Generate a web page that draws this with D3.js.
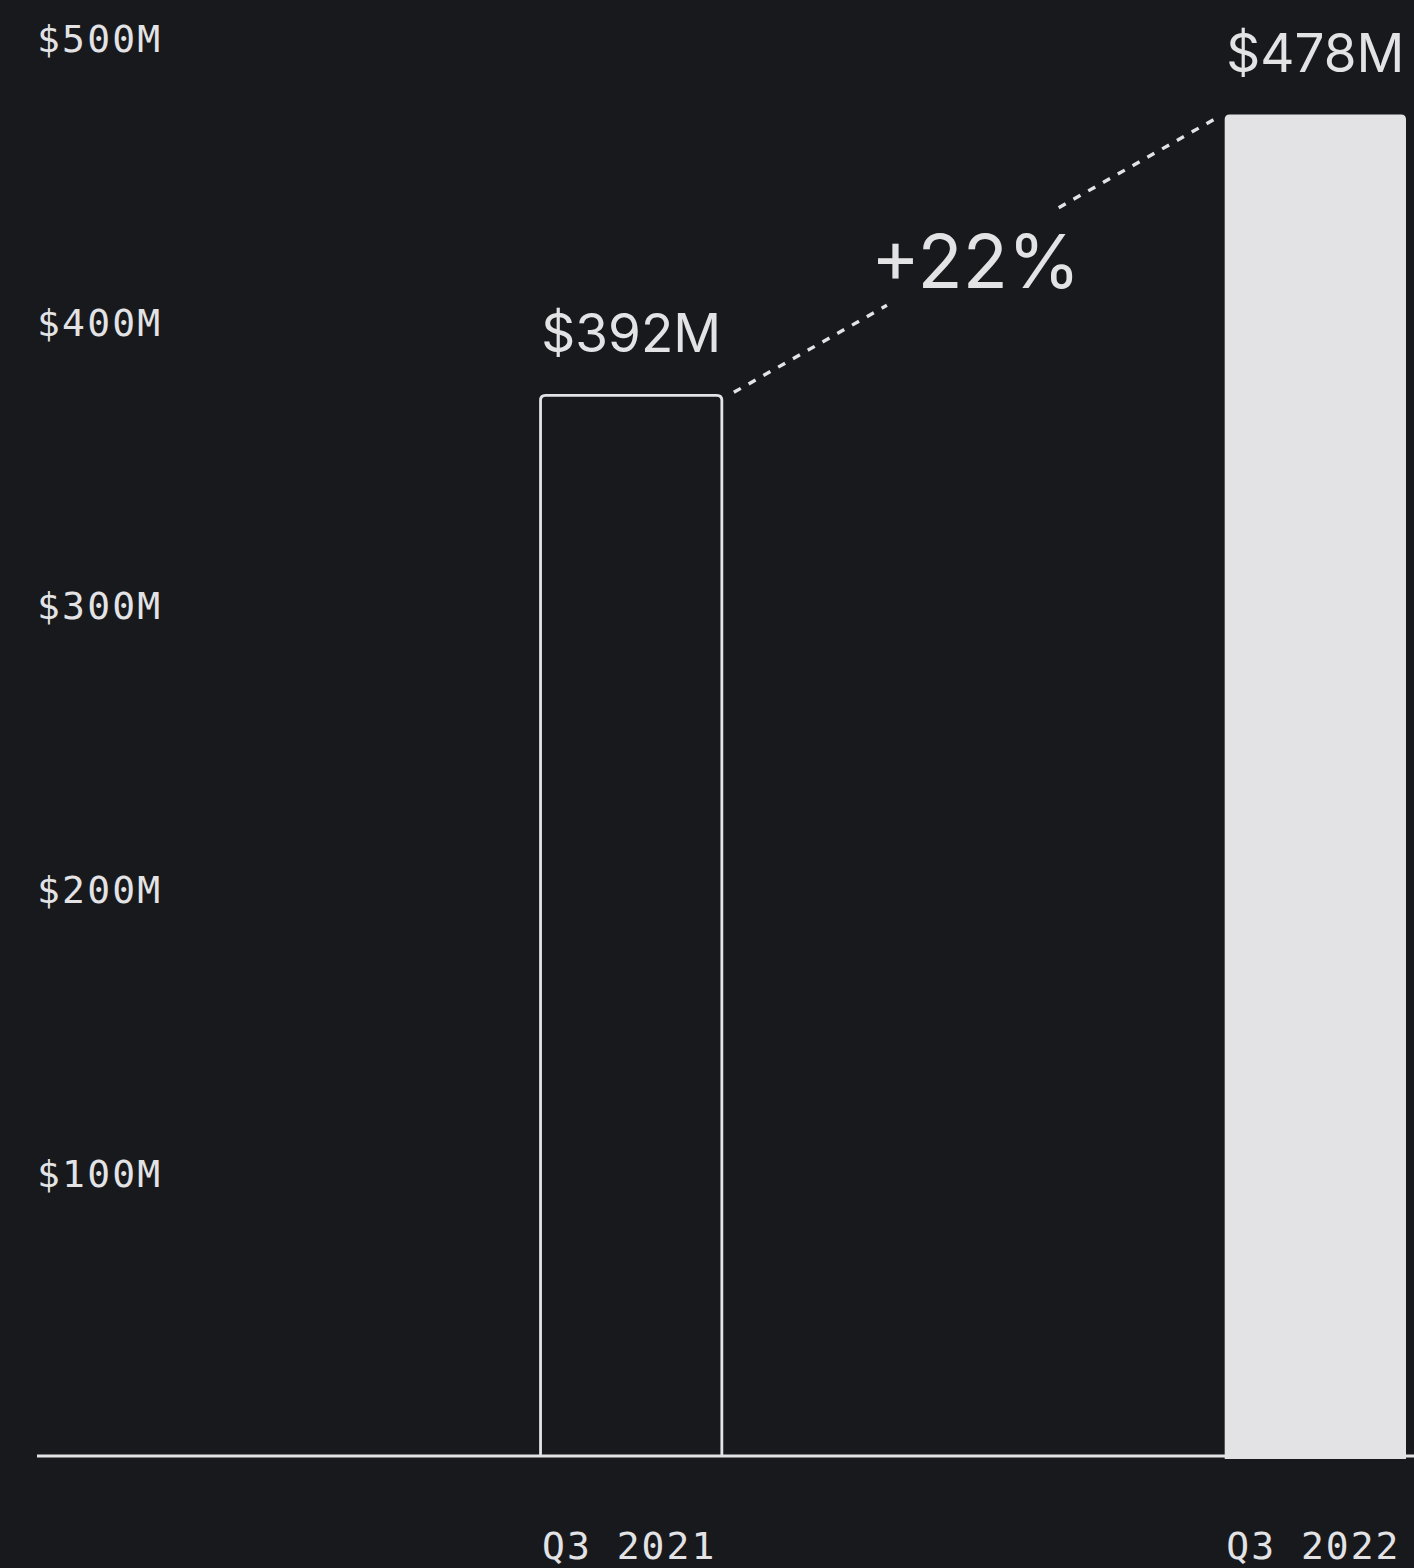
<!DOCTYPE html>
<html><head><meta charset="utf-8">
<script src="https://cdn.jsdelivr.net/npm/d3@7"></script>
<style>
html,body{margin:0;padding:0;background:#18191d;}
svg{display:block;}
</style></head>
<body>
<svg id="chart" width="1414" height="1568"></svg>
<script>
const categories = ["Q3 2021", "Q3 2022"];
const barValues = [374, 473];           // bar heights as read against the axis
const valueLabels = ["$392M", "$478M"];
const changeLabel = "+22%";
const tickValues = [100, 200, 300, 400, 500];
const tickLabels = ["$100M", "$200M", "$300M", "$400M", "$500M"];

const W = 1414, H = 1568;
const fg = "#e3e3e5", bg = "#18191d";
const svg = d3.select("#chart");
svg.append("rect").attr("width", W).attr("height", H).attr("fill", bg);

const y = d3.scaleLinear().domain([0, 500]).range([1456, 38]);
const x = d3.scaleBand().domain(categories).range([37, 1406])
  .paddingInner(0.735).paddingOuter(0.368).align(1);

const monoFont = "'DejaVu Sans Mono', monospace";

// y tick labels
const yAxis = d3.axisLeft(y).tickValues(tickValues)
  .tickFormat((d, i) => tickLabels[i]).tickSize(0).tickPadding(0);
const gy = svg.append("g").attr("transform", "translate(37,0)").call(yAxis);
gy.select(".domain").remove();
gy.selectAll("text").attr("text-anchor", "start").attr("x", 0)
  .attr("fill", fg).attr("font-family", monoFont)
  .attr("font-size", 38).attr("letter-spacing", 2.2).attr("dy", "0.36em");

// baseline axis
svg.append("line").attr("x1", 37).attr("x2", W).attr("y1", y(0)).attr("y2", y(0))
  .attr("stroke", fg).attr("stroke-width", 3.2);

// bar 1 outline
const r = 5;
const b1 = categories[0], b2 = categories[1];
svg.append("path")
  .attr("d", (() => {
    const x0 = x(b1), x1 = x(b1) + x.bandwidth(), yt = y(barValues[0]), yb = y(0);
    return `M${x0},${yb} L${x0},${yt + r} Q${x0},${yt} ${x0 + r},${yt} L${x1 - r},${yt} Q${x1},${yt} ${x1},${yt + r} L${x1},${yb}`;
  })())
  .attr("fill", "none").attr("stroke", fg).attr("stroke-width", 2.8);

// bar 2 filled
svg.append("path")
  .attr("d", (() => {
    const x0 = x(b2), x1 = x(b2) + x.bandwidth(), yt = y(barValues[1]), yb = y(0) + 3;
    return `M${x0},${yb} L${x0},${yt + r} Q${x0},${yt} ${x0 + r},${yt} L${x1 - r},${yt} Q${x1},${yt} ${x1},${yt + r} L${x1},${yb} Z`;
  })())
  .attr("fill", fg);

// value labels
svg.selectAll(".vl").data(categories).enter().append("text")
  .attr("x", d => x(d) + x.bandwidth() / 2)
  .attr("y", (d, i) => y(barValues[i]) - 43)
  .attr("text-anchor", "middle").attr("fill", fg)
  .attr("font-family", "Inter, sans-serif").attr("font-size", 53)
  .text((d, i) => valueLabels[i]);

// x labels
svg.selectAll(".xl").data(categories).enter().append("text")
  .attr("x", d => x(d) + x.bandwidth() / 2 - 2)
  .attr("y", 1559)
  .attr("text-anchor", "middle").attr("fill", fg)
  .attr("font-family", monoFont)
  .attr("font-size", 38).attr("letter-spacing", 2.0)
  .text(d => d);

// dashed connector
const p0 = [x(b1) + x.bandwidth() + 12, y(barValues[0]) - 3];
const p1 = [x(b2) - 11, y(barValues[1]) + 5];
const lerp = t => [p0[0] + (p1[0] - p0[0]) * t, p0[1] + (p1[1] - p0[1]) * t];
[[0, 0.319], [0.677, 1]].forEach(([a, b]) => {
  const A = lerp(a), B = lerp(b);
  svg.append("line").attr("x1", A[0]).attr("y1", A[1]).attr("x2", B[0]).attr("y2", B[1])
    .attr("stroke", fg).attr("stroke-width", 3.4).attr("stroke-dasharray", "8,9");
});
const mid = lerp(0.5);
svg.append("text").attr("x", mid[0] + 2).attr("y", 288)
  .attr("text-anchor", "middle").attr("fill", fg)
  .attr("font-family", "Inter, sans-serif").attr("font-size", 74)
  .text(changeLabel);
</script>
</body></html>
